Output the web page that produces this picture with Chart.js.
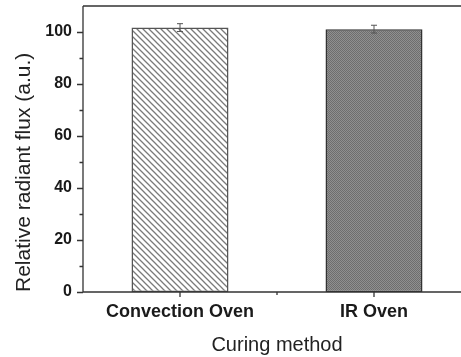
<!DOCTYPE html>
<html><head><meta charset="utf-8">
<script src="https://cdn.jsdelivr.net/npm/chart.js@4.4.1/dist/chart.umd.min.js"></script>
<style>
html,body{margin:0;padding:0;overflow:hidden;background:#fff;width:461px;height:357px}
#wrap{position:absolute;left:0;top:0;width:471px;height:357px}
</style></head>
<body><div id="wrap"><canvas id="c" width="471" height="357"></canvas></div>
<script>
const categories = ['Convection Oven', 'IR Oven'];
const fluxValues = [101.7, 101.1];
const fluxErrors = [1.5, 1.5];
const yMin = 0, yMax = 110, yStep = 10;
const yTickLabels = [0, 20, 40, 60, 80, 100];
const xTitle = 'Curing method';
const yTitle = 'Relative radiant flux (a.u.)';

function hatchPattern() {
  const s = 6, c = document.createElement('canvas');
  c.width = s; c.height = s;
  const g = c.getContext('2d');
  g.fillStyle = '#fff'; g.fillRect(0, 0, s, s);
  g.strokeStyle = '#7a7a7a'; g.lineWidth = 1.3;
  g.beginPath();
  g.moveTo(0, 0); g.lineTo(s, s);
  g.moveTo(-2, s - 2); g.lineTo(2, s + 2);
  g.moveTo(s - 2, -2); g.lineTo(s + 2, 2);
  g.stroke();
  return g.createPattern(c, 'repeat');
}
function texturePattern() {
  const s = 2, c = document.createElement('canvas');
  c.width = s; c.height = s;
  const g = c.getContext('2d');
  g.fillStyle = '#909090'; g.fillRect(0, 0, s, s);
  g.fillStyle = '#6e6e6e';
  g.fillRect(0, 0, 1, 1); g.fillRect(1, 1, 1, 1);
  return g.createPattern(c, 'repeat');
}

const axesPlugin = {
  id: 'axesPlugin',
  afterDatasetsDraw(chart) {
    const ctx = chart.ctx, a = chart.chartArea;
    const xs = chart.scales.x, ys = chart.scales.y;
    ctx.save();
    ctx.strokeStyle = '#333'; ctx.lineWidth = 1.3;
    ctx.beginPath();
    ctx.moveTo(a.left, a.top); ctx.lineTo(a.left, a.bottom);
    ctx.moveTo(a.left, a.bottom); ctx.lineTo(a.right, a.bottom);
    ctx.moveTo(a.left, a.top); ctx.lineTo(a.right, a.top);
    for (let v = yMin; v < yMax; v += yStep) {
      const y = Math.round(ys.getPixelForValue(v)) + 0.5;
      const len = yTickLabels.includes(v) ? 6 : 3.5;
      ctx.moveTo(a.left - len, y); ctx.lineTo(a.left, y);
    }
    categories.forEach((c, i) => {
      const x = xs.getPixelForValue(i);
      ctx.moveTo(x, a.bottom); ctx.lineTo(x, a.bottom + 5);
      if (i < categories.length - 1) {
        const xm = (x + xs.getPixelForValue(i + 1)) / 2;
        ctx.moveTo(xm, a.bottom); ctx.lineTo(xm, a.bottom + 3);
      }
    });
    ctx.stroke();
    const meta = chart.getDatasetMeta(0);
    ctx.strokeStyle = '#555'; ctx.lineWidth = 1;
    ctx.beginPath();
    meta.data.forEach((bar, i) => {
      const yt = ys.getPixelForValue(fluxValues[i] + fluxErrors[i]);
      const yb = ys.getPixelForValue(fluxValues[i] - fluxErrors[i]);
      ctx.moveTo(bar.x, yt); ctx.lineTo(bar.x, yb);
      ctx.moveTo(bar.x - 3, yt); ctx.lineTo(bar.x + 3, yt);
      ctx.moveTo(bar.x - 3, yb); ctx.lineTo(bar.x + 3, yb);
    });
    ctx.stroke();
    ctx.restore();
  }
};

new Chart(document.getElementById('c'), {
  type: 'bar',
  data: {
    labels: categories,
    datasets: [{
      data: fluxValues,
      backgroundColor: [hatchPattern(), texturePattern()],
      borderColor: ['#555', '#333'],
      borderWidth: 1.5,
      borderSkipped: false,
      barPercentage: 0.5,
      categoryPercentage: 1.0
    }]
  },
  options: {
    responsive: false,
    animation: false,
    devicePixelRatio: 1,
    layout: { padding: { left: 0, top: 6, right: 0, bottom: 0 } },
    plugins: { legend: { display: false }, tooltip: { enabled: false } },
    scales: {
      x: {
        grid: { display: false, drawTicks: false },
        border: { display: false },
        ticks: { color: '#1a1a1a', padding: 9, font: { family: 'Liberation Sans, Arial, sans-serif', size: 18, weight: 'bold' } },
        title: { display: true, text: xTitle, color: '#222', padding: { top: 0, bottom: 0 },
                 font: { family: 'Liberation Sans, Arial, sans-serif', size: 20 } },
        afterFit(s) { s.height = 65; s.paddingLeft = 0; s.paddingRight = 0; s.paddingTop = 0; s.paddingBottom = 0; }
      },
      y: {
        min: yMin, max: yMax,
        grid: { display: false, drawTicks: false },
        border: { display: false },
        afterBuildTicks(s) { s.ticks = yTickLabels.map(v => ({ value: v })); },
        ticks: {
          padding: 11, color: '#1a1a1a',
          font: { family: 'Liberation Sans, Arial, sans-serif', size: 16, weight: 'bold' }
        },
        title: { display: true, text: yTitle, color: '#222', align: 'start', padding: { top: 12, bottom: 0 },
                 font: { family: 'Liberation Sans, Arial, sans-serif', size: 21 } },
        afterFit(s) { s.width = 83; s.paddingTop = 0; s.paddingBottom = 0; s.paddingLeft = 0; s.paddingRight = 0; }
      }
    }
  },
  plugins: [axesPlugin]
});
</script>
</body></html>
